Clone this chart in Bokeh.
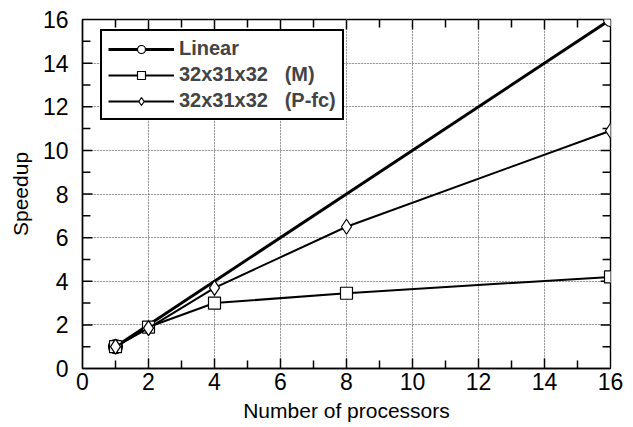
from bokeh.plotting import figure
from bokeh.models import Legend, LegendItem, LinearAxis, FixedTicker, Range1d, Grid
from bokeh.embed import file_html
from bokeh.resources import INLINE

# Data
lin_x = [1, 16]
lin_y = [1, 16]
m_x = [1, 2, 4, 8, 16]
m_y = [1.0, 1.9, 3.0, 3.45, 4.2]
p_x = [1, 2, 4, 8, 16]
p_y = [1.0, 1.85, 3.7, 6.5, 10.9]
labels = ["Linear", "32x31x32   (M)", "32x31x32   (P-fc)"]
ticks = [0, 2, 4, 6, 8, 10, 12, 14, 16]
minor = [1, 3, 5, 7, 9, 11, 13, 15]
x_lo, x_hi = 0, 16
y_lo, y_hi = 0, 16

FONT = "Liberation Sans"

p = figure(width=630, height=425, output_backend="svg", toolbar_location=None,
           x_range=Range1d(x_lo, x_hi), y_range=Range1d(y_lo, y_hi),
           min_border_left=82, min_border_right=20, min_border_top=19, min_border_bottom=57,
           x_axis_location=None, y_axis_location=None)
p.outline_line_color = "black"
p.outline_line_width = 1.4
p.background_fill_color = "white"

def mk_axis(label):
    ax = LinearAxis(ticker=FixedTicker(ticks=ticks, minor_ticks=minor))
    ax.major_tick_in = 0
    ax.major_tick_out = 0
    ax.minor_tick_in = 0
    ax.minor_tick_out = 0
    ax.axis_line_color = "black"
    ax.axis_line_width = 1.4
    ax.major_label_text_font = FONT
    ax.major_label_text_font_size = "23px"
    ax.major_label_text_color = "black"
    ax.axis_label = label
    ax.axis_label_text_font = FONT
    ax.axis_label_text_font_size = "21px"
    ax.axis_label_text_font_style = "normal"
    ax.axis_label_text_color = "black"
    return ax

xb = mk_axis("Number of processors")
xb.major_label_standoff = 4
xb.axis_label_standoff = 6
yl = mk_axis("Speedup")
yl.major_label_standoff = 14
yl.axis_label_standoff = 8
p.add_layout(xb, "below")
p.add_layout(yl, "left")

for dim, axref in ((0, xb), (1, yl)):
    g = Grid(dimension=dim, ticker=axref.ticker)
    g.grid_line_color = "#555555"
    g.grid_line_dash = "1 2"
    g.grid_line_width = 1
    p.add_layout(g, "center")

# inward tick marks on all four sides (lengths in data units ~ 10px / 8px)
maj_x, min_x = 0.30, 0.24   # tick lengths for left/right sides
maj_y, min_y = 0.46, 0.37   # tick lengths for top/bottom sides
tk = dict(line_color="black", line_width=1.5)
inner_major = ticks[1:-1]
p.segment(x0=inner_major, y0=[y_lo]*len(inner_major), x1=inner_major, y1=[y_lo + maj_y]*len(inner_major), **tk)
p.segment(x0=minor, y0=[y_lo]*len(minor), x1=minor, y1=[y_lo + min_y]*len(minor), **tk)
p.segment(x0=inner_major, y0=[y_hi]*len(inner_major), x1=inner_major, y1=[y_hi - maj_y]*len(inner_major), **tk)
p.segment(x0=minor, y0=[y_hi]*len(minor), x1=minor, y1=[y_hi - min_y]*len(minor), **tk)
p.segment(x0=[x_lo]*len(inner_major), y0=inner_major, x1=[x_lo + maj_x]*len(inner_major), y1=inner_major, **tk)
p.segment(x0=[x_lo]*len(minor), y0=minor, x1=[x_lo + min_x]*len(minor), y1=minor, **tk)
p.segment(x0=[x_hi]*len(inner_major), y0=inner_major, x1=[x_hi - maj_x]*len(inner_major), y1=inner_major, **tk)
p.segment(x0=[x_hi]*len(minor), y0=minor, x1=[x_hi - min_x]*len(minor), y1=minor, **tk)

r1 = p.line(lin_x, lin_y, line_color="black", line_width=3)
s1 = p.scatter(lin_x, lin_y, marker="circle", size=14, fill_color="white", line_color="black", line_width=1.2)
r2 = p.line(m_x, m_y, line_color="black", line_width=2)
s2 = p.scatter(m_x, m_y, marker="square", size=12, fill_color="white", line_color="black", line_width=1.2)
r3 = p.line(p_x, p_y, line_color="black", line_width=2)
s3 = p.scatter(p_x, p_y, marker="diamond", size=15, fill_color="white", line_color="black", line_width=1.2)

legend = Legend(items=[LegendItem(label=labels[0], renderers=[r1, s1]),
                       LegendItem(label=labels[1], renderers=[r2, s2]),
                       LegendItem(label=labels[2], renderers=[r3, s3])],
                location=(18, 248))
legend.margin = 0
legend.padding = 6
legend.spacing = 3
legend.glyph_width = 66
legend.glyph_height = 20
legend.label_height = 20
legend.label_text_font = FONT
legend.label_text_font_style = "bold"
legend.label_text_font_size = "20px"
legend.label_standoff = 5
legend.border_line_color = "black"
legend.border_line_alpha = 1
legend.border_line_width = 2.8
legend.background_fill_color = "white"
legend.background_fill_alpha = 1
p.add_layout(legend, "center")

open("out.html", "w").write(file_html(p, INLINE))
